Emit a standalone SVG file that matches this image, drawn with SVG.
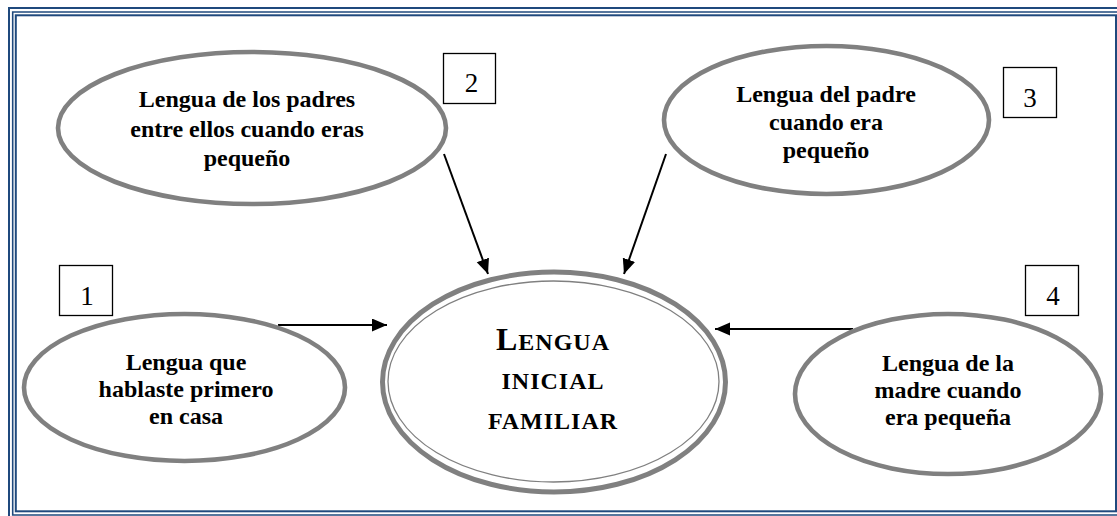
<svg xmlns="http://www.w3.org/2000/svg" width="1117" height="516" viewBox="0 0 1117 516">
  <style>
    .frame { fill: none; stroke: #1F497D; }
    .bubble { fill: #ffffff; stroke: #808080; stroke-width: 4.6; }
    .label { font-family: "Liberation Serif", "Times New Roman", serif; font-weight: bold; font-size: 24px; fill: #000000; text-anchor: middle; }
    .title { font-family: "Liberation Serif", "Times New Roman", serif; font-weight: bold; font-size: 24px; letter-spacing: 1px; fill: #000000; text-anchor: middle; }
    .num-box { fill: #ffffff; stroke: #000000; stroke-width: 1.3; }
    .num { font-family: "Liberation Serif", "Times New Roman", serif; font-size: 27px; fill: #000000; text-anchor: middle; }
    .link { stroke: #000000; stroke-width: 2; fill: none; marker-end: url(#head); }
  </style>
  <defs>
    <marker id="head" markerUnits="userSpaceOnUse" markerWidth="16" markerHeight="14" refX="15" refY="6.5" orient="auto">
      <path d="M0,0 L15,6.5 L0,13 Z" fill="#000000"/>
    </marker>
  </defs>

  <rect width="1117" height="516" fill="#ffffff"/>

  <!-- triple page border -->
  <g id="border">
    <path class="frame" stroke-width="2" d="M1117,8 H9 V516"/>
    <path class="frame" stroke-width="1.6" d="M1117,12 H12.7 V515 H1117"/>
    <rect class="frame" stroke-width="2" x="15.8" y="15.3" width="1100.2" height="496"/>
  </g>

  <!-- connectors -->
  <g id="connectors">
    <line class="link" x1="278" y1="325" x2="387" y2="325"/>
    <line class="link" x1="444" y1="154" x2="488" y2="274"/>
    <line class="link" x1="666" y1="154" x2="624" y2="274"/>
    <line class="link" x1="853" y1="329" x2="715" y2="329"/>
  </g>

  <!-- central node -->
  <g id="node-center">
    <ellipse cx="554" cy="382" rx="171.5" ry="110" fill="#ffffff" stroke="#808080" stroke-width="5"/>
    <ellipse cx="553.5" cy="381.5" rx="165.5" ry="100.5" fill="none" stroke="#808080" stroke-width="1.3"/>
    <text class="title" x="553" y="350"><tspan font-size="32">L</tspan>ENGUA</text>
    <text class="title" x="553" y="389">INICIAL</text>
    <text class="title" x="553" y="429">FAMILIAR</text>
  </g>

  <!-- node 1 -->
  <g id="node-1">
    <ellipse class="bubble" cx="184.5" cy="387.5" rx="160.5" ry="73.5"/>
    <text class="label" x="186" y="370">Lengua que</text>
    <text class="label" x="186" y="397">hablaste primero</text>
    <text class="label" x="186" y="423.5">en casa</text>
    <rect class="num-box" x="59.5" y="265.5" width="53" height="50"/>
    <text class="num" x="87" y="305">1</text>
  </g>

  <!-- node 2 -->
  <g id="node-2">
    <ellipse class="bubble" cx="252" cy="128" rx="194" ry="76"/>
    <text class="label" x="247" y="107">Lengua de los padres</text>
    <text class="label" x="247" y="136.5">entre ellos cuando eras</text>
    <text class="label" x="247" y="166">pequeño</text>
    <rect class="num-box" x="443.5" y="53.5" width="52" height="50"/>
    <text class="num" x="471.5" y="92">2</text>
  </g>

  <!-- node 3 -->
  <g id="node-3">
    <ellipse class="bubble" cx="826.5" cy="120" rx="162.5" ry="74"/>
    <text class="label" x="826" y="101.5">Lengua del padre</text>
    <text class="label" x="826" y="129.5">cuando era</text>
    <text class="label" x="826" y="158">pequeño</text>
    <rect class="num-box" x="1003.5" y="67.5" width="53" height="50"/>
    <text class="num" x="1030" y="107">3</text>
  </g>

  <!-- node 4 -->
  <g id="node-4">
    <ellipse class="bubble" cx="948" cy="394" rx="153" ry="80"/>
    <text class="label" x="948" y="370.5">Lengua de la</text>
    <text class="label" x="948" y="397.5">madre cuando</text>
    <text class="label" x="948" y="425">era pequeña</text>
    <rect class="num-box" x="1025.5" y="265.5" width="53" height="50"/>
    <text class="num" x="1053" y="305">4</text>
  </g>
</svg>
